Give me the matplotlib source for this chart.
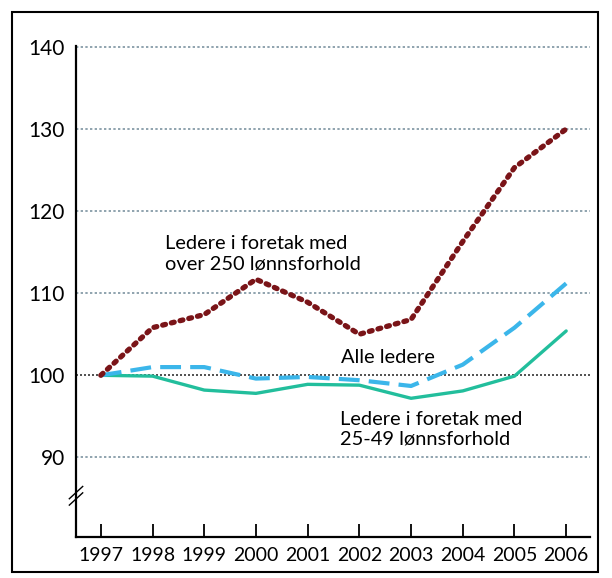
import matplotlib
matplotlib.use('Agg')
from matplotlib import pyplot as plt
from matplotlib.patches import Rectangle

plt.rcParams['font.family'] = ['Lato', 'DejaVu Sans']

years = [1997, 1998, 1999, 2000, 2001, 2002, 2003, 2004, 2005, 2006]
store = [100, 105.8, 107.4, 111.7, 108.9, 105.0, 106.8, 116.3, 125.3, 130.0]
alle = [100, 101.0, 101.0, 99.6, 99.8, 99.4, 98.7, 101.3, 105.8, 111.2]
sma = [100, 99.9, 98.2, 97.8, 98.9, 98.8, 97.2, 98.1, 99.9, 105.4]
yticks = [90, 100, 110, 120, 130, 140]

fig = plt.figure(figsize=(6.12, 5.78), dpi=100)
ax = fig.add_axes([0.1242, 0.0709, 0.8398, 0.8493])

# grid
for v in yticks:
    if v == 100:
        ax.axhline(v, color='#333333', lw=1.2, ls=(0, (1.2, 1.2)), zorder=1)
    else:
        ax.axhline(v, color='#8fa3ae', lw=1.4, ls=(0, (1.2, 1.2)), zorder=1)

ax.plot(years, sma, color='#22be9c', lw=2.4, zorder=3, solid_capstyle='round')
ax.plot(years, alle, color='#3bb6ea', lw=3.0, ls=(0, (5, 2.2)), zorder=3)
ax.plot(years, store, color='#7a1418', lw=3.8, ls=(0, (0.55, 1.15)),
        dash_capstyle='round', zorder=4)

ax.set_xlim(1996.52, 2006.46)
ax.set_ylim(80.3, 140.1)
ax.set_yticks(yticks)
ax.set_xticks(years)
ax.tick_params(axis='y', length=0, labelsize=15, pad=8)
ax.tick_params(axis='x', direction='in', length=9.5, width=1.3, labelsize=14, pad=7)
for s in ['top', 'right']:
    ax.spines[s].set_visible(False)
for s in ['left', 'bottom']:
    ax.spines[s].set_linewidth(1.6)

# axis break marks
for dy in (0, 0.013):
    ax.plot([-0.013, 0.013], [0.065 + dy, 0.09 + dy], transform=ax.transAxes,
            color='black', lw=1.0, clip_on=False, zorder=5)

ax.text(1998.24, 114.8, 'Ledere i foretak med\nover 250 lønnsforhold', fontsize=14.4,
        linespacing=1.2, va='center', ha='left')
ax.text(2001.64, 102.2, 'Alle ledere', fontsize=14.4, va='center', ha='left',
        bbox=dict(facecolor='white', edgecolor='none', pad=1))
ax.text(2001.62, 93.4, 'Ledere i foretak med\n25-49 lønnsforhold', fontsize=14.4,
        linespacing=1.2, va='center', ha='left')

fig.patches.append(Rectangle((12 / 612, 6 / 578), 586 / 612, 560 / 578,
                             transform=fig.transFigure, fill=False,
                             edgecolor='black', lw=1.5))

fig.savefig('out.png', dpi=100)
